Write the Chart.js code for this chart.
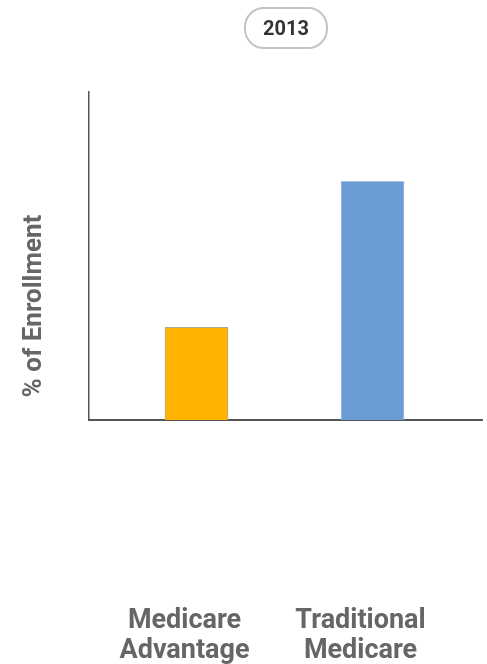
<!DOCTYPE html>
<html>
<head>
<meta charset="utf-8">
<script src="https://cdn.jsdelivr.net/npm/chart.js@4/dist/chart.umd.min.js"></script>
<style>
  html, body { margin: 0; padding: 0; background: #fff; }
  #wrap { position: relative; width: 487px; height: 664px; }
  #pill {
    position: absolute; left: 244px; top: 7px; width: 80px; height: 38px;
    border: 2px solid #c4c4c4; border-radius: 20px; box-sizing: content-box;
    display: flex; align-items: center; justify-content: center;
    font-family: Roboto, sans-serif; font-weight: bold; font-size: 20px; color: #333;
  }
  canvas { position: absolute; left: 0; top: 0; }
</style>
</head>
<body>
<div id="wrap">
  <canvas id="c" width="487" height="664"></canvas>
  <div id="pill">2013</div>
</div>
<script>
const year = "2013";
const categories = ["Medicare Advantage", "Traditional Medicare"];
const tickLabels = [["Medicare", "Advantage"], ["Traditional", "Medicare"]];
const enrollmentShare = [28, 72];
const barColors = ["#FFB300", "#6A9BD5"];
const barBorders = ["#b0a890", "#a9bfdc"];
const yAxisTitle = "% of Enrollment";

document.getElementById('pill').textContent = year;

const yTitlePlugin = {
  id: 'yTitle',
  afterDraw(chart) {
    const ctx = chart.ctx;
    const a = chart.chartArea;
    ctx.save();
    ctx.translate(34, a.bottom - 114);
    ctx.rotate(-Math.PI / 2);
    ctx.font = 'bold 26px Roboto';
    ctx.fillStyle = '#666';
    ctx.textAlign = 'center';
    ctx.textBaseline = 'middle';
    ctx.fillText(yAxisTitle, 0, 0);
    ctx.restore();
  }
};

new Chart(document.getElementById('c'), {
  type: 'bar',
  data: {
    datasets: [{
      label: "% of Enrollment",
      data: enrollmentShare.map((v, i) => ({ x: i, y: v })),
      backgroundColor: barColors,
      borderColor: barBorders,
      borderWidth: 1,
      barThickness: 63
    }]
  },
  options: {
    responsive: false,
    animation: false,
    devicePixelRatio: 1,
    layout: { padding: { left: 89, right: 5, top: 92, bottom: 0 } },
    plugins: { legend: { display: false }, tooltip: { enabled: false }, title: { display: false } },
    scales: {
      x: {
        type: 'linear',
        offset: false,
        min: -0.611,
        max: 1.622,
        grid: { display: false, drawTicks: false },
        border: { display: true, color: '#555', width: 2 },
        afterFit: (s) => { s.height = 244; s.paddingLeft = 0; s.paddingRight = 0; },
        ticks: {
          stepSize: 1,
          includeBounds: false,
          autoSkip: false,
          maxRotation: 0,
          minRotation: 0,
          padding: 186,
          labelOffset: -12,
          color: '#666',
          font: { family: 'Roboto', weight: 'bold', size: 27, lineHeight: 1.12 },
          callback: (v) => (Number.isInteger(v) && tickLabels[v]) ? tickLabels[v] : ''
        }
      },
      y: {
        min: 0,
        max: 99,
        grid: { display: false, drawTicks: false },
        border: { display: true, color: '#555', width: 1.5 },
        afterFit: (s) => { s.width = 0; },
        ticks: { display: false }
      }
    }
  },
  plugins: [yTitlePlugin]
});
</script>
</body>
</html>
